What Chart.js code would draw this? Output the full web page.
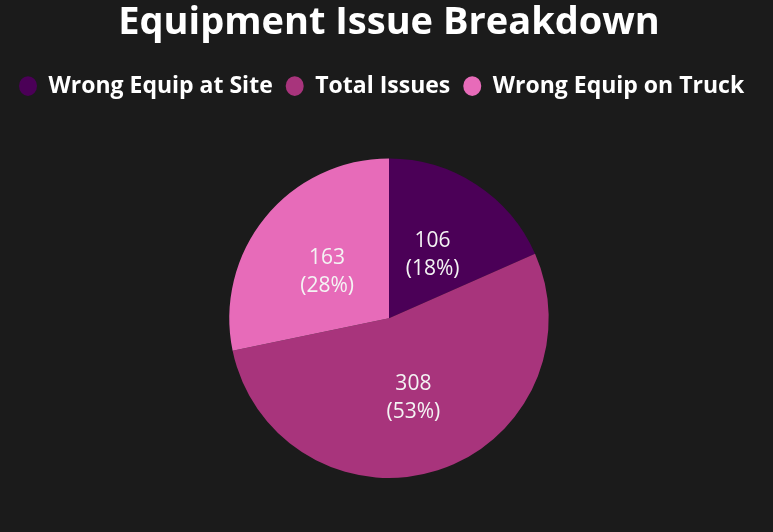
<!DOCTYPE html>
<html>
<head>
<meta charset="utf-8">
<script src="https://cdn.jsdelivr.net/npm/chart.js@4"></script>
<style>
  html, body { margin: 0; padding: 0; background: #1b1b1b; }
  #wrap { width: 773px; height: 532px; }
</style>
</head>
<body>
<div id="wrap"><canvas id="issueChart"></canvas></div>
<script>
// categories and counts
const categories = ['Wrong Equip at Site', 'Total Issues', 'Wrong Equip on Truck'];
const issueCounts = [106, 308, 163];
const sliceColors = ['#4b0057', '#a8347c', '#e76bb9'];

// small plugin to write "value (pct%)" inside each slice
const sliceLabels = {
  id: 'sliceLabels',
  afterDatasetsDraw(chart) {
    const ctx = chart.ctx;
    const meta = chart.getDatasetMeta(0);
    const total = issueCounts.reduce((a, b) => a + b, 0);
    ctx.save();
    ctx.fillStyle = '#f4f4f4';
    ctx.font = '21px "Open Sans", sans-serif';
    ctx.textAlign = 'center';
    ctx.textBaseline = 'middle';
    meta.data.forEach((arc, i) => {
      const mid = (arc.startAngle + arc.endAngle) / 2;
      const r = arc.outerRadius * 0.5;
      const x = arc.x + Math.cos(mid) * r;
      const y = arc.y + Math.sin(mid) * r;
      const pct = Math.round(issueCounts[i] / total * 100);
      ctx.fillText(String(issueCounts[i]), x, y - 10);
      ctx.fillText('(' + pct + '%)', x, y + 18);
    });
    ctx.restore();
  }
};

// push the pie down a bit below the legend
const legendGap = {
  id: 'legendGap',
  beforeInit(chart) {
    const origFit = chart.legend.fit;
    chart.legend.fit = function () {
      origFit.bind(chart.legend)();
      this.height += 51;
    };
  }
};

const ctx = document.getElementById('issueChart').getContext('2d');

const data = {
  labels: categories,
  datasets: [{
    data: issueCounts,
    backgroundColor: sliceColors,
    borderWidth: 0
  }]
};

const config = {
  type: 'pie',
  data: data,
  options: {
    responsive: true,
    maintainAspectRatio: false,
    animation: false,
    layout: {
      padding: { top: 0, bottom: 54, left: 6, right: 1 }
    },
    plugins: {
      title: {
        display: true,
        text: 'Equipment Issue Breakdown',
        color: '#ffffff',
        font: { family: '"Open Sans", sans-serif', size: 38, weight: 'bold' },
        padding: { top: 0, bottom: 16 }
      },
      legend: {
        display: true,
        position: 'top',
        align: 'start',
        labels: {
          color: '#ffffff',
          usePointStyle: true,
          pointStyle: 'circle',
          pointStyleWidth: 18,
          boxHeight: 14,
          padding: 13,
          font: { family: '"Open Sans", sans-serif', size: 23, weight: 'bold' }
        }
      },
      tooltip: { enabled: false }
    }
  },
  plugins: [sliceLabels, legendGap]
};

const issueChart = new Chart(ctx, config);
</script>
</body>
</html>
